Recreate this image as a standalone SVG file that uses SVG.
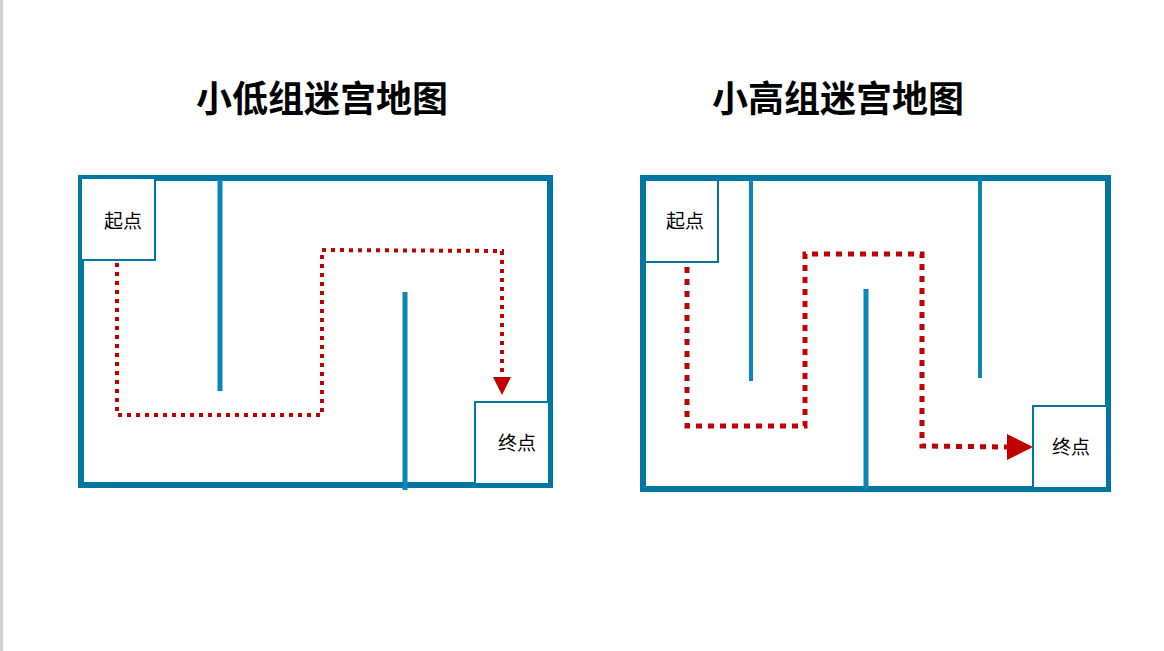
<svg xmlns="http://www.w3.org/2000/svg" width="1164" height="651" viewBox="0 0 1164 651">
<style>
.title{font-family:"Noto Sans CJK SC","Liberation Sans",sans-serif;font-weight:bold;font-size:36px;text-anchor:middle;fill:#000}
.lbl{font-family:"Noto Sans CJK SC","Liberation Sans",sans-serif;font-size:19px;text-anchor:middle;fill:#000}
.outer{fill:none;stroke:#0077a3;stroke-width:6}
.box{fill:#fff;stroke:#0077a3;stroke-width:2}
.wall{stroke:#0a86b8;stroke-width:5}
.wall2{stroke:#0a86b8;stroke-width:4}
.path1{fill:none;stroke:#c00000;stroke-width:4;stroke-dasharray:4 5}
.path2{fill:none;stroke:#c00000;stroke-width:5;stroke-dasharray:6 6}
</style>
<rect width="1164" height="651" fill="#fff"/>
<line x1="1.5" y1="0" x2="1.5" y2="651" stroke="#d0d0d0" stroke-width="3"/>
<g id="left-maze">
<text class="title" x="322" y="112">小低组迷宫地图</text>
<rect class="outer" x="81" y="178" width="469" height="307"/>
<line class="wall" x1="220" y1="180" x2="220" y2="391"/>
<line class="wall" x1="405" y1="292" x2="405" y2="490"/>
<g id="start1"><rect class="box" x="81" y="178" width="74" height="82"/><text class="lbl" x="123" y="228">起点</text></g>
<g id="end1"><rect class="box" x="475" y="402" width="74" height="82"/><text class="lbl" x="517" y="450">终点</text></g>
</g>
<g id="right-maze">
<text class="title" x="838" y="112">小高组迷宫地图</text>
<rect class="outer" x="643" y="178" width="465" height="311"/>
<line class="wall2" x1="751" y1="180" x2="751" y2="381"/>
<line class="wall2" x1="980" y1="180" x2="980" y2="378"/>
<line class="wall" x1="866" y1="289" x2="866" y2="490"/>
<g id="start2"><rect class="box" x="645" y="180" width="73" height="82"/><text class="lbl" x="685" y="228">起点</text></g>
<g id="end2"><rect class="box" x="1033" y="406" width="74" height="82"/><text class="lbl" x="1071" y="454">终点</text></g>
</g>
<g id="connectors">
<polyline class="path1" points="117,263 117,415 322,415 322,250 502,251 502,378"/>
<polygon points="493,377 511,377 502,395" fill="#c00000"/>
<polyline class="path2" points="687,267 687,426 805,426 805,254 922,254 922,446 1008,447"/>
<polygon points="1007,434 1033,447 1007,460" fill="#c00000"/>
</g>
</svg>
